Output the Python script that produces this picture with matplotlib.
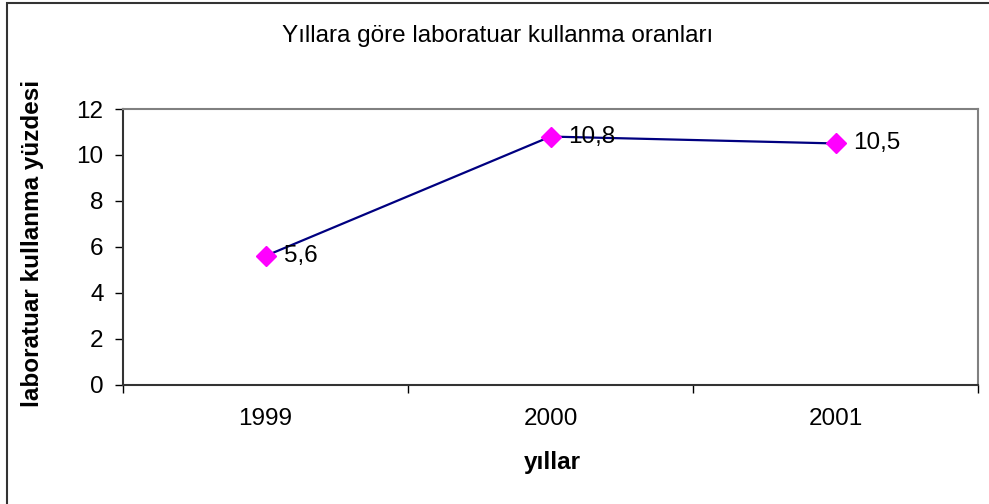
import matplotlib
matplotlib.use("Agg")
import matplotlib.pyplot as plt
from matplotlib.patches import Rectangle

years = ["1999", "2000", "2001"]
values = [5.6, 10.8, 10.5]
y_ticks = [0, 2, 4, 6, 8, 10, 12]

plt.rcParams['font.family'] = ['Liberation Sans', 'DejaVu Sans']
fs = 17.5

fig = plt.figure(figsize=(9.89, 5.04), dpi=100)
ax = fig.add_axes([0.1244, 0.2371, 0.8645, 0.5466])

x = list(range(len(years)))
ax.plot(x, values, color='#000080', lw=1.6, marker='D', markersize=10,
        markerfacecolor='#FF00FF', markeredgecolor='#FF00FF', zorder=3)
for xi, v in zip(x, values):
    ax.annotate(str(v).replace('.', ','), (xi, v), xytext=(13, 0),
                textcoords='offset points', va='center', ha='left', fontsize=fs)

ax.set_xlim(-0.5, 2.5)
ax.set_ylim(0, 12)
ax.set_yticks(y_ticks)
ax.set_xticks(x)
ax.set_xticklabels(years)
ax.set_xticks([-0.5, 0.5, 1.5, 2.5], minor=True)
ax.tick_params(axis='x', which='major', length=0, pad=17, labelsize=fs)
ax.tick_params(axis='x', which='minor', length=6, width=1, direction='out')
ax.tick_params(axis='y', length=6, width=1, direction='out', labelsize=fs, pad=8)

for s in ['top', 'right']:
    ax.spines[s].set_color('#808080')
    ax.spines[s].set_linewidth(1.5)
for s in ['left', 'bottom']:
    ax.spines[s].set_color('#333333')
    ax.spines[s].set_linewidth(1.5)

fig.text(552 / 989, 1 - 462 / 504, 'yıllar', fontsize=fs, fontweight='bold',
         ha='center', va='center')
fig.text(33 / 989, 0.516, 'laboratuar kullanma yüzdesi', fontsize=fs,
         fontweight='bold', rotation=90, ha='center', va='center')
fig.text(498 / 989, 1 - 36 / 504, 'Yıllara göre laboratuar kullanma oranları',
         ha='center', va='center', fontsize=fs)

fig.patches.append(Rectangle((6.5 / 989, -0.05), 1.2, 1.05 - 2.5 / 504, fill=False,
                             edgecolor='#333333', lw=1.5, transform=fig.transFigure))

fig.savefig('out.png', dpi=100)
